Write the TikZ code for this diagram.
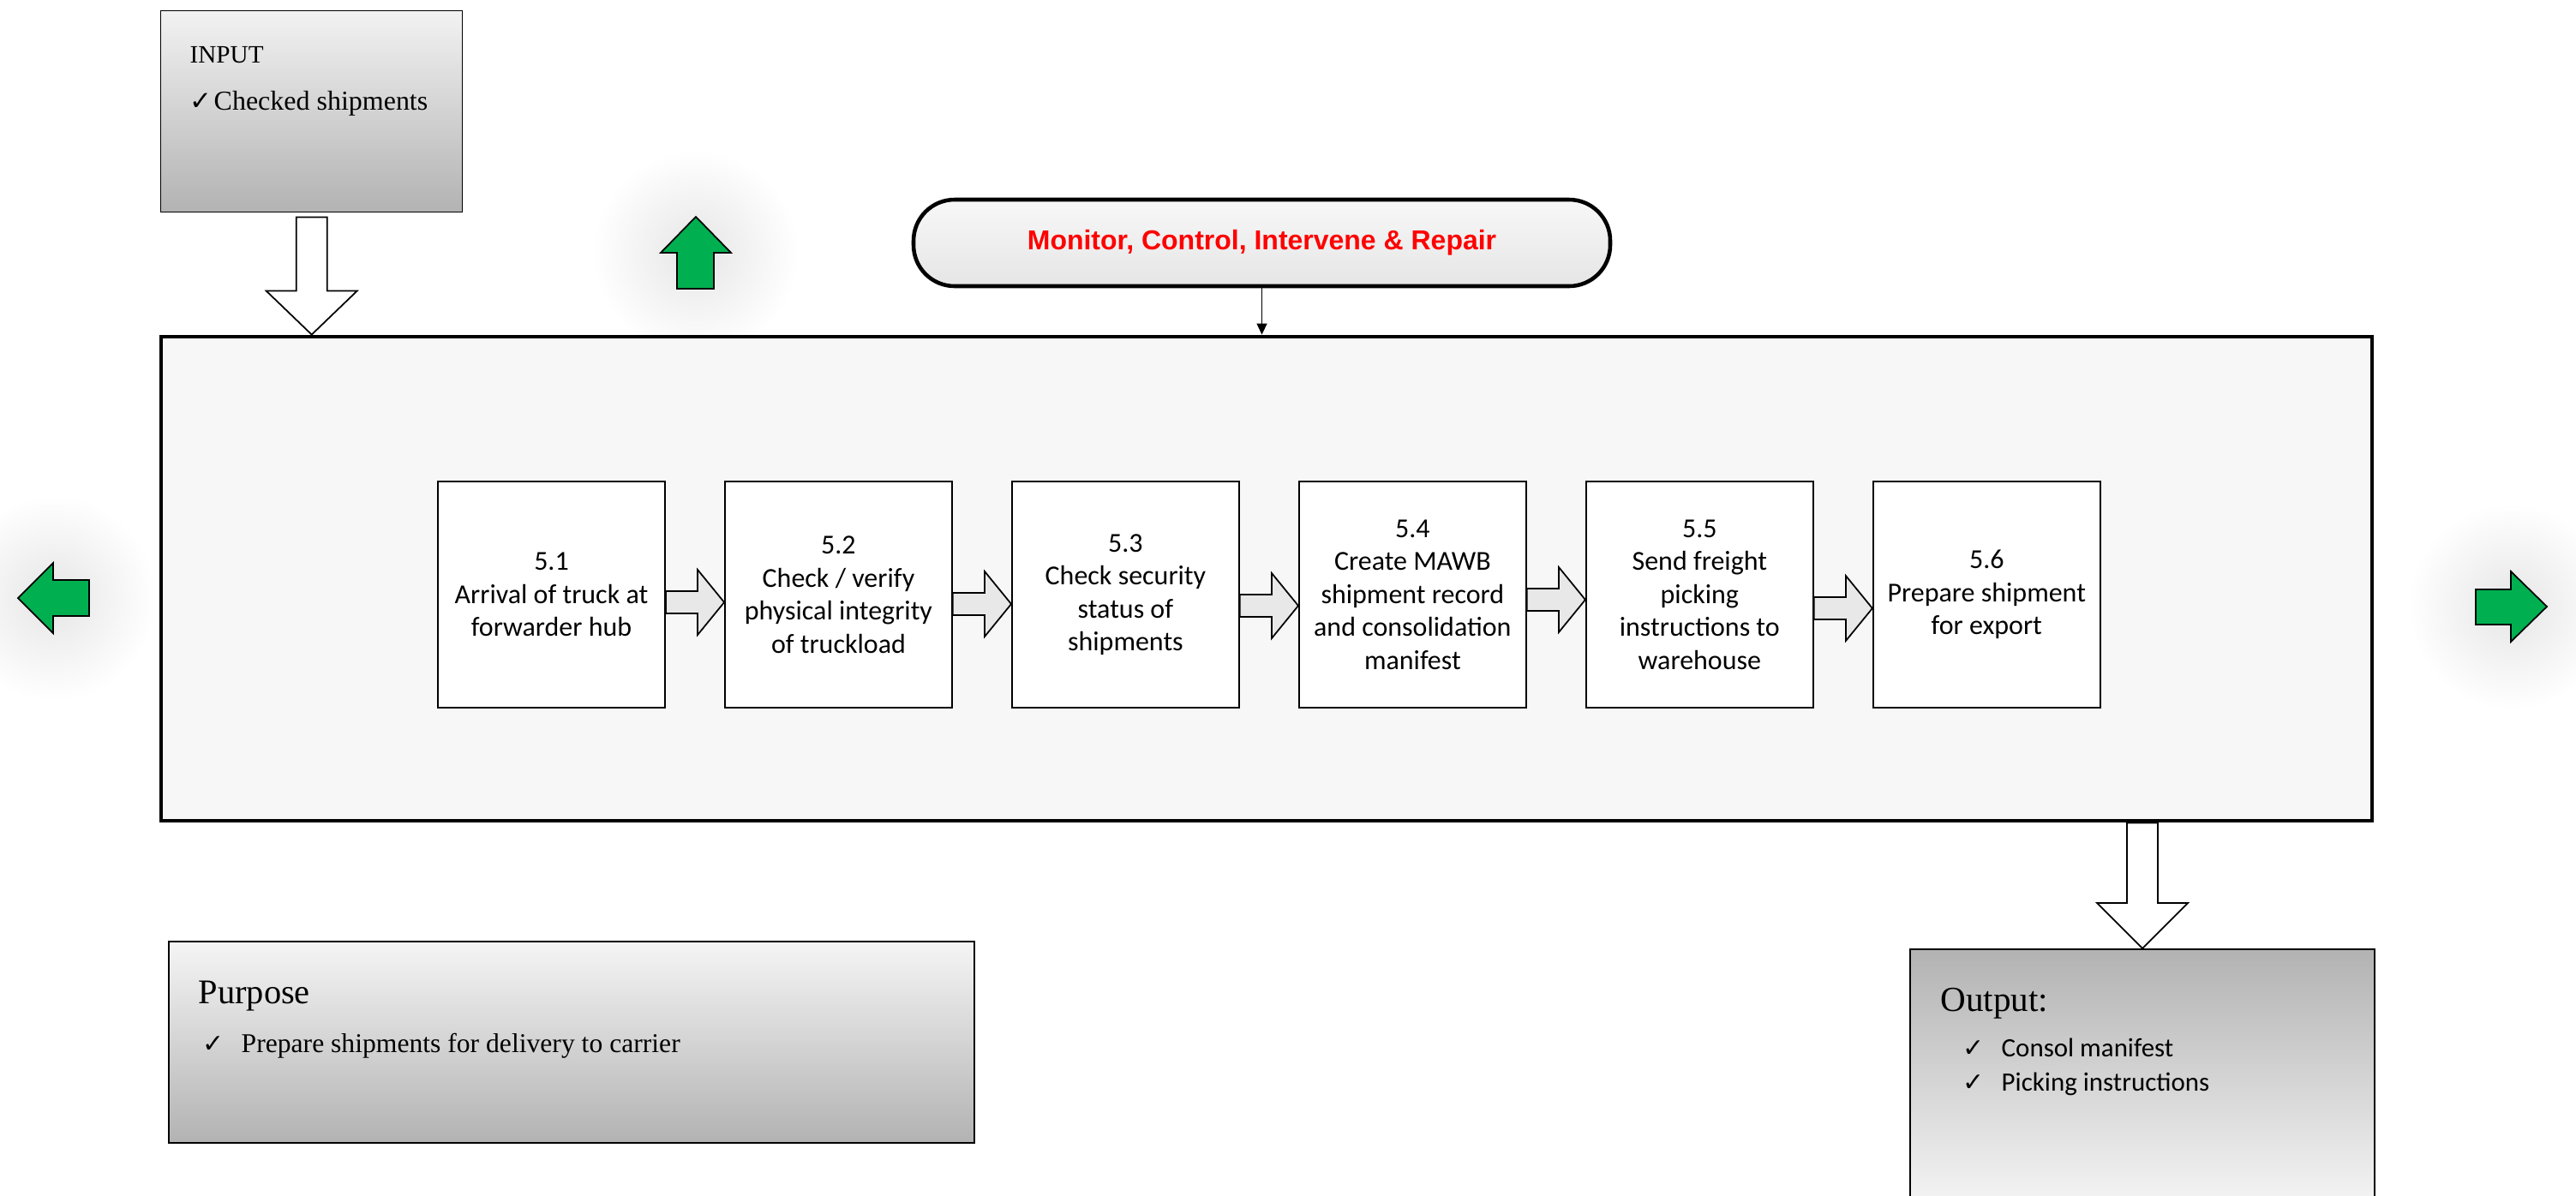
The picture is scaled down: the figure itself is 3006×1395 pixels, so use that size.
\documentclass[tikz,border=0pt]{standalone}
\usepackage{fontspec}
\setmainfont{Liberation Serif}
\newfontfamily\calibri{Carlito}
\newfontfamily\arialf{Liberation Sans}
\newfontfamily\symf{DejaVu Sans}
\usetikzlibrary{positioning,calc,arrows.meta}

\definecolor{offgreen}{HTML}{00B050}
\definecolor{panel}{HTML}{F7F7F7}
\definecolor{flowgray}{HTML}{E8E8E8}

% tick mark in a box of fixed width
\newcommand{\tick}[2]{\makebox[#1][l]{\symf\fontsize{#2}{#2}\selectfont\char"2713}}

\begin{document}
\begin{tikzpicture}[x=0.1mm,y=-0.1mm,
    stage/.style={draw, line width=0.5pt, fill=white, minimum width=26.5mm,
      minimum height=26.4mm, align=center, inner sep=0pt,
      font=\calibri\fontsize{9.1pt}{10.95pt}\selectfont},
    flow/.style={draw, line width=0.5pt, fill=flowgray},
    hollow/.style={draw, line width=0.5pt, fill=white},
    greenarr/.style={draw, line width=0.5pt, fill=offgreen},
    glow/.style={inner color=black!10, outer color=white},
    txt/.style={anchor=base west, inner sep=0pt}]

	\useasboundingbox (0,0) rectangle (3006,1395);
	\clip (0,0) rectangle (3006,1395);

	% soft glow behind the green arrows
	\shade [glow] (812,295) circle [radius=12mm];
	\shade [glow] (62,698) circle [radius=12mm];
	\shade [glow] (2930,708) circle [radius=12mm];

	% process frame
	\node [draw, line width=1.4pt, fill=panel, minimum width=258mm, minimum height=56.5mm] (main) at (1478,675.5) {};

	% monitor
	\node [draw, line width=1.3pt, rounded corners=4.8mm, top color=black!3, bottom color=black!10,
	  minimum width=81.3mm, minimum height=10.1mm, text=red,
	  font=\arialf\bfseries\fontsize{9.1pt}{11pt}\selectfont] (monitor) at (1472.5,283.5) {Monitor, Control, Intervene \& Repair};
	\draw [-{Triangle[length=1.3mm,width=1.2mm]}, line width=0.4pt] (monitor.south) -- (monitor.south |- main.north);

	% steps
	\node [stage] (b1) at (643.5,694) {5.1\\Arrival of truck at\\forwarder hub};
	\node [stage, right=6.82mm of b1] (b2) {5.2\\Check / verify\\physical integrity\\of truckload};
	\node [stage, right=6.82mm of b2] (b3) {5.3\\Check security\\status of\\shipments};
	\node [stage, right=6.82mm of b3] (b4) {5.4\\Create MAWB\\shipment record\\and consolidation\\manifest};
	\node [stage, right=6.82mm of b4] (b5) {5.5\\Send freight\\picking\\instructions to\\warehouse};
	\node [stage, right=6.82mm of b5] (b6) {5.6\\Prepare shipment\\for export};

	\foreach \a/\b/\d in {b1/b2/9,b2/b3/11,b3/b4/13,b4/b5/6,b5/b6/16}
	  \draw [flow] ($(\a.east)+(0,\d-13)$) -- ($(\b.west)+(-31,\d-13)$) -- ($(\b.west)+(-31,\d-38)$)
	    -- ($(\b.west)+(0,\d)$) -- ($(\b.west)+(-31,\d+38)$) -- ($(\b.west)+(-31,\d+13)$)
	    -- ($(\a.east)+(0,\d+13)$) -- cycle;

	% input
	\node [draw, line width=0.4pt, top color=black!5, bottom color=black!30,
	  minimum width=35.2mm, minimum height=23.5mm, anchor=north west] (input) at (187,12) {};
	\node [txt, font=\fontsize{8.3pt}{10pt}\selectfont] (intitle) at (221,73) {INPUT};
	\node [txt, font=\fontsize{9.1pt}{11pt}\selectfont] (initem) at (221,128) {\tick{2.8mm}{8.8pt}Checked shipments};
	\coordinate (intip) at (input.south |- main.north);
	\draw [hollow] ($(input.south)+(-18,5)$) -- ($(intip)+(-18,-51)$) -- ($(intip)+(-53,-51)$) -- (intip)
	  -- ($(intip)+(53,-51)$) -- ($(intip)+(18,-51)$) -- ($(input.south)+(18,5)$) -- cycle;

	% purpose
	\node [draw, line width=0.6pt, top color=black!4, bottom color=black!30,
	  minimum width=94mm, minimum height=23.5mm, anchor=north west] (purpose) at (196,1098) {};
	\node [txt, font=\fontsize{11.5pt}{13pt}\selectfont] (ptitle) at (231,1171) {Purpose};
	\node [txt, font=\fontsize{9pt}{11pt}\selectfont] (pitem) at (236,1228) {\tick{4.5mm}{8.5pt}Prepare shipments for delivery to carrier};

	% output
	\node [draw, line width=0.6pt, top color=black!30, bottom color=black!4,
	  minimum width=54.2mm, minimum height=30mm, anchor=north west] (output) at (2228,1107) {};
	\node [txt, font=\fontsize{11.7pt}{13pt}\selectfont] (otitle) at (2264,1180) {Output:};
	\node [txt, font=\calibri\fontsize{8.8pt}{11pt}\selectfont] (oitem1) at (2290,1233) {\tick{4.5mm}{8.5pt}Consol manifest};
	\node [txt, font=\calibri\fontsize{8.8pt}{11pt}\selectfont] (oitem2) at (2290,1273) {\tick{4.5mm}{8.5pt}Picking instructions};
	\coordinate (outtop) at (output.north |- main.south);
	\draw [hollow] ($(outtop)+(-18,0)$) -- ($(output.north)+(-18,-53)$) -- ($(output.north)+(-53,-53)$) -- (output.north)
	  -- ($(output.north)+(53,-53)$) -- ($(output.north)+(18,-53)$) -- ($(outtop)+(18,0)$) -- cycle;

	% green arrows
	\draw [greenarr] (790,337) -- (790,295) -- (771,295) -- (812,253) -- (853,295) -- (833,295) -- (833,337) -- cycle;
	\draw [greenarr] (104,677) -- (62,677) -- (62,657) -- (21,698) -- (62,739) -- (62,719) -- (104,719) -- cycle;
	\draw [greenarr] (2889,688) -- (2930,688) -- (2930,667) -- (2972,708) -- (2930,749) -- (2930,729) -- (2889,729) -- cycle;
\end{tikzpicture}
\end{document}
